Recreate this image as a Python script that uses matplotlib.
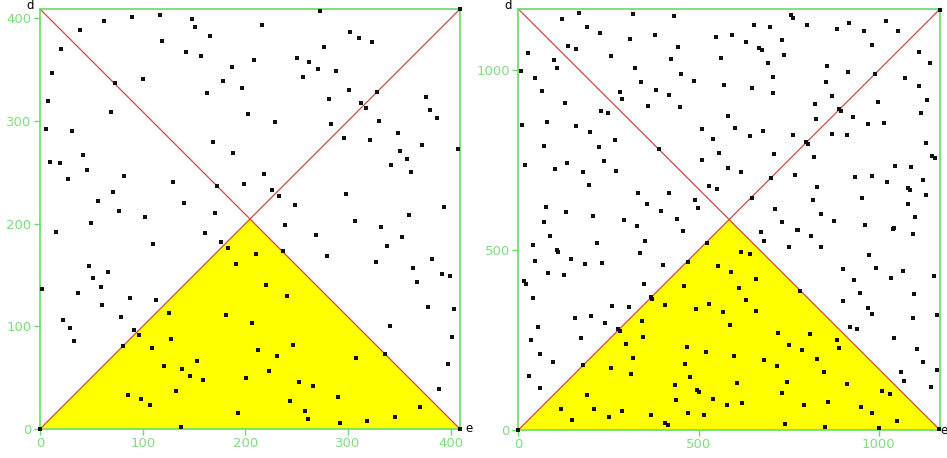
import matplotlib
matplotlib.use("Agg")
import matplotlib.pyplot as plt

# left panel: points (e, d)
left_max = 409
left_ticks = [0, 100, 200, 300, 400]
left_pts = [
    (62, 397), (90, 401), (117, 403), (148, 399), (151, 391), (39, 389), (119, 378), (166, 383),
    (20, 370), (142, 367), (157, 363), (187, 353), (12, 347), (100, 341), (178, 339), (73, 337),
    (163, 327), (8, 319), (69, 309), (6, 292), (31, 290), (168, 279), (188, 269), (42, 267),
    (10, 260), (19, 259), (46, 252), (27, 243), (82, 246), (130, 241), (172, 237), (71, 231),
    (56, 222), (140, 220), (77, 212), (170, 210), (102, 206), (50, 201),
    (273, 407), (409, 409), (216, 393), (302, 387), (311, 381), (323, 377), (277, 372), (208, 359),
    (250, 361), (262, 357), (271, 351), (288, 349), (256, 343), (197, 332), (301, 330), (328, 328),
    (281, 321), (376, 323), (313, 317), (317, 313), (380, 311), (387, 303), (203, 307), (229, 299),
    (330, 300), (283, 297), (349, 288), (296, 283), (321, 281), (372, 277), (407, 273), (351, 271),
    (357, 263), (342, 257), (361, 250), (218, 248), (199, 239), (226, 233), (233, 227), (298, 229),
    (248, 218), (393, 216), (359, 208), (307, 203), (239, 199), (332, 197),
    (16, 192), (161, 191), (176, 182), (183, 176), (191, 161), (110, 180), (2, 136), (48, 159),
    (66, 153), (52, 147), (59, 138), (37, 132), (88, 128), (113, 126), (60, 121), (22, 106),
    (79, 109), (29, 98), (126, 113), (181, 111), (33, 86), (92, 96), (96, 92), (128, 88),
    (81, 81), (109, 79), (121, 61), (138, 58), (153, 66), (146, 52), (159, 48), (132, 37),
    (86, 33), (98, 29), (107, 23), (137, 2), (193, 16), (0, 0),
    (269, 189), (353, 187), (338, 178), (210, 170), (237, 173), (279, 168), (327, 163), (382, 166),
    (363, 157), (391, 151), (399, 149), (367, 143), (220, 140), (241, 130), (378, 119), (403, 117),
    (206, 103), (341, 100), (401, 90), (246, 82), (212, 77), (231, 71), (308, 69), (336, 73),
    (397, 63), (223, 56), (201, 50), (252, 46), (266, 42), (389, 39), (290, 31), (243, 27),
    (370, 21), (258, 18), (261, 10), (292, 6), (318, 8), (346, 12), (409, 0),
]

# right panel
right_max = 1170
right_ticks = [0, 500, 1000]
right_pts = [
    (168, 1160), (319, 1157), (432, 1150), (120, 1141), (191, 1120), (226, 1103), (311, 1088),
    (378, 1097), (138, 1068), (161, 1058), (444, 1065), (27, 1047), (258, 1039), (100, 1029),
    (425, 1032), (108, 1006), (323, 1006), (7, 999), (47, 977), (341, 968), (452, 989), (487, 971),
    (65, 942), (282, 939), (382, 944), (419, 930), (288, 919), (130, 910), (361, 900), (448, 898),
    (229, 887), (249, 882), (80, 857), (9, 848), (161, 844), (510, 837), (200, 828), (267, 807),
    (70, 790), (223, 787), (389, 780), (18, 737), (135, 743), (237, 748), (510, 749), (103, 725),
    (180, 717), (270, 719), (196, 682), (528, 679), (332, 658), (419, 658), (77, 620), (357, 629),
    (490, 640), (498, 617), (132, 606), (208, 596), (396, 610), (70, 577), (294, 585), (329, 567),
    (440, 587),
    (757, 1152), (762, 1146), (1169, 1166), (655, 1126), (698, 1120), (801, 1126), (918, 1132),
    (1020, 1138), (549, 1091), (593, 1097), (883, 1114), (959, 1108), (1053, 1108), (632, 1079),
    (733, 1085), (669, 1062), (675, 1056), (980, 1071), (563, 1035), (736, 1042), (1112, 1050),
    (693, 1021), (1141, 1019), (857, 1012), (915, 994), (991, 989), (707, 982), (1073, 977),
    (854, 966), (571, 959), (648, 951), (1111, 957), (706, 936), (871, 927), (1134, 916),
    (824, 907), (997, 912), (891, 892), (894, 886), (1118, 881), (583, 874), (930, 869),
    (825, 863), (969, 851), (1016, 854), (602, 840), (678, 832), (540, 810), (643, 816),
    (763, 819), (869, 822), (913, 821), (797, 801), (803, 795), (1130, 798), (557, 771),
    (709, 766), (821, 760), (1149, 762), (1156, 755), (581, 729), (1044, 734), (1089, 731),
    (617, 717), (769, 708), (934, 702), (982, 705), (701, 699), (1023, 690), (1123, 696),
    (552, 669), (830, 675), (1082, 672), (1087, 667), (953, 646), (648, 646), (818, 640),
    (1130, 652), (1082, 629), (713, 613), (841, 599), (1100, 591), (877, 582), (731, 579),
    (961, 570), (1043, 562), (774, 557),
    (88, 538), (457, 552), (41, 515), (218, 520), (352, 526), (106, 499), (111, 494), (146, 476),
    (338, 491), (523, 520), (47, 470), (185, 462), (232, 465), (470, 468), (402, 458), (82, 436),
    (127, 432), (15, 413), (20, 407), (349, 406), (461, 400), (42, 368), (367, 370), (372, 365),
    (261, 344), (306, 342), (408, 347), (494, 336), (528, 351), (156, 312), (203, 316), (241, 298),
    (54, 286), (278, 282), (282, 276), (344, 304), (35, 251), (173, 255), (345, 259), (300, 239),
    (467, 231), (59, 210), (522, 216), (318, 201), (97, 190), (179, 180), (256, 172), (463, 183),
    (314, 155), (477, 146), (30, 149), (434, 126), (495, 110), (501, 106), (59, 117), (191, 96),
    (438, 82), (118, 58), (211, 58), (288, 52), (149, 29), (252, 35), (369, 41), (472, 46),
    (516, 41), (408, 19), (414, 14), (0, 0),
    (672, 550), (775, 555), (813, 538), (1039, 559), (1094, 546), (681, 526), (751, 508),
    (839, 508), (619, 496), (643, 488), (974, 485), (555, 456), (590, 438), (901, 447),
    (992, 450), (1068, 441), (1153, 429), (1035, 423), (660, 419), (932, 418), (613, 394),
    (782, 387), (947, 380), (1099, 377), (631, 360), (900, 359), (970, 339), (569, 328),
    (659, 331), (980, 321), (1094, 310), (1163, 319), (587, 292), (921, 286), (941, 282),
    (721, 269), (810, 266), (1042, 257), (883, 249), (889, 228), (751, 236), (787, 222),
    (599, 207), (1105, 225), (683, 195), (830, 198), (1123, 189), (719, 179), (847, 160),
    (1061, 160), (1163, 167), (1070, 137), (607, 132), (745, 134), (912, 128), (1144, 119),
    (732, 102), (1009, 107), (1032, 99), (541, 87), (621, 76), (578, 69), (792, 69), (859, 79),
    (952, 64), (980, 46), (1051, 26), (741, 17), (851, 8), (1002, 6), (1167, 3),
]

green = '#66dd66'
tick_green = '#80dd80'
red = '#d04848'


def draw_panel(ax, m, pts, ticks, e_offset):
    # yellow triangle under both diagonals
    ax.fill([0, m / 2, m], [0, m / 2, 0], color='#ffff00', lw=0, zorder=1)
    ax.plot([0, m], [0, m], color=red, lw=0.9, zorder=2)
    ax.plot([0, m], [m, 0], color=red, lw=0.9, zorder=2)
    xs = [p[0] for p in pts]
    ys = [p[1] for p in pts]
    ax.plot(xs, ys, 's', color='#111111', ms=2.4, mew=0, zorder=3, clip_on=False)
    ax.set_xlim(0, m)
    ax.set_ylim(0, m)
    ax.set_xticks(ticks)
    ax.set_yticks(ticks)
    for s in ax.spines.values():
        s.set_color(green)
        s.set_linewidth(1.2)
    ax.tick_params(colors=green, labelcolor=tick_green, labelsize=9.5,
                   length=4, width=1, direction='out', pad=2)
    ax.text(-0.015, 1.0, 'd', transform=ax.transAxes, ha='right', va='baseline', fontsize=8.5)
    ax.text(1 + e_offset, 0.0, 'e', transform=ax.transAxes, ha='left', va='center', fontsize=8.5)


fig = plt.figure(figsize=(9.47, 4.58), dpi=100)
ax1 = fig.add_axes([40 / 947, 29 / 458, 420 / 947, 420 / 458])
ax2 = fig.add_axes([518.3 / 947, 28 / 458, 421.7 / 947, 421 / 458])

draw_panel(ax1, left_max, left_pts, left_ticks, 0.012)
draw_panel(ax2, right_max, right_pts, right_ticks, 0.002)

fig.savefig('out.png', dpi=100)
